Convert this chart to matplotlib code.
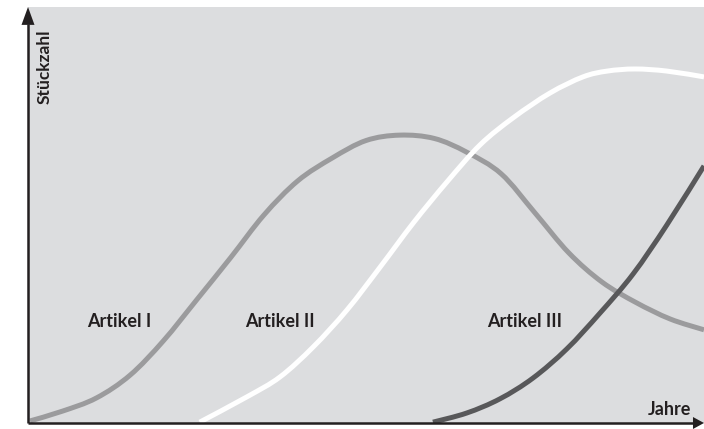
import matplotlib
matplotlib.use("Agg")
import matplotlib.pyplot as plt
from matplotlib.patches import Polygon, PathPatch
from matplotlib.path import Path

# ---- data (x: Jahre 0..100, y: Stückzahl 0..100) ----
art1_x = [0.3, 5.0, 10.1, 15.1, 20.0, 25.0, 30.0, 34.9, 39.9, 45.0, 50.0, 55.0,
          60.1, 64.9, 70.0, 75.0, 80.0, 84.9, 89.9, 95.0, 100.0]
art1_y = [0.5, 2.8, 6.0, 11.5, 19.7, 29.7, 39.8, 50.0, 58.2, 63.7, 67.9, 69.2,
          68.4, 65.1, 59.9, 50.5, 40.9, 33.9, 29.0, 25.0, 22.4]

art2_x = [25.4, 32.4, 37.3, 42.2, 47.2, 52.1, 57.0, 62.0, 66.9, 71.8, 77.2, 82.1,
          85.7, 89.8, 94.5, 100.0]
art2_y = [0.2, 6.3, 11.1, 18.3, 27.2, 37.5, 48.1, 58.0, 66.9, 73.4, 79.3, 83.2,
          84.6, 85.1, 84.6, 83.2]

art3_x = [59.9, 64.9, 69.8, 74.7, 79.7, 84.6, 89.5, 94.5, 100.0]
art3_y = [0.2, 2.4, 5.8, 10.8, 17.8, 26.4, 35.8, 47.6, 61.8]

series_labels = ["Artikel I", "Artikel II", "Artikel III"]
label_x = [8.7, 32.1, 67.9]
label_y = [23.1, 23.1, 23.1]
x_title = "Jahre"
y_title = "Stückzahl"


def smooth_path(xs, ys):
    """Smooth curve through the given points (Catmull-Rom as cubic Bezier)."""
    pts = list(zip(xs, ys))
    verts = [pts[0]]
    codes = [Path.MOVETO]
    n = len(pts)
    for i in range(n - 1):
        p0 = pts[i - 1] if i > 0 else pts[i]
        p1 = pts[i]
        p2 = pts[i + 1]
        p3 = pts[i + 2] if i + 2 < n else pts[i + 1]
        c1 = (p1[0] + (p2[0] - p0[0]) / 6, p1[1] + (p2[1] - p0[1]) / 6)
        c2 = (p2[0] - (p3[0] - p1[0]) / 6, p2[1] - (p3[1] - p1[1]) / 6)
        verts += [c1, c2, p2]
        codes += [Path.CURVE4] * 3
    return Path(verts, codes)


# ---- figure ----
W, H = 704, 429
fig = plt.figure(figsize=(W / 100, H / 100), dpi=100)
fig.patch.set_facecolor("white")
left_px, right_px, top_px, bottom_px = 28, 704, 7, 423
ax = fig.add_axes([left_px / W, (H - bottom_px) / H,
                   (right_px - left_px) / W, (bottom_px - top_px) / H])
ax.set_facecolor("#dcdddf")
ax.set_xlim(0, 100)
ax.set_ylim(0, 100)
for s in ax.spines.values():
    s.set_visible(False)
ax.set_xticks([])
ax.set_yticks([])

lw = 3.6
for xs, ys, col in [(art1_x, art1_y, "#9b9b9d"),
                    (art2_x, art2_y, "white"),
                    (art3_x, art3_y, "#58585a")]:
    ax.add_patch(PathPatch(smooth_path(xs, ys), facecolor="none",
                           edgecolor=col, lw=lw, capstyle="butt",
                           joinstyle="round"))

tcol = "#231f20"
font = dict(family=["Lato", "DejaVu Sans"], fontweight="bold", color=tcol)
for lab, lx, ly in zip(series_labels, label_x, label_y):
    ax.text(lx, ly, lab, fontsize=13, ha="left", va="baseline", **font)

ax.text(91.7, 1.9, x_title, fontsize=13, ha="left", va="baseline", **font)
ax.text(3.25, 85.6, y_title, fontsize=12.5, ha="center", va="baseline",
        rotation=90, rotation_mode="anchor", **font)

# axes with arrows (axes-fraction coordinates)
alw = 1.8
ax.plot([0, 0], [0, 0.96], transform=ax.transAxes, color=tcol, lw=alw,
        clip_on=False, solid_capstyle="butt")
ax.plot([0, 0.985], [0, 0], transform=ax.transAxes, color=tcol, lw=alw,
        clip_on=False, solid_capstyle="butt")
hw_y = 6.5 / (right_px - left_px)
ax.add_patch(Polygon([[-hw_y, 0.957], [hw_y, 0.957], [0, 1.0]], closed=True,
                     transform=ax.transAxes, color=tcol, clip_on=False, lw=0))
hh_x = 6.0 / (bottom_px - top_px)
ax.add_patch(Polygon([[0.9837, -hh_x], [0.9837, hh_x], [1.0, 0]], closed=True,
                     transform=ax.transAxes, color=tcol, clip_on=False, lw=0))

fig.savefig("out.png", dpi=100)
